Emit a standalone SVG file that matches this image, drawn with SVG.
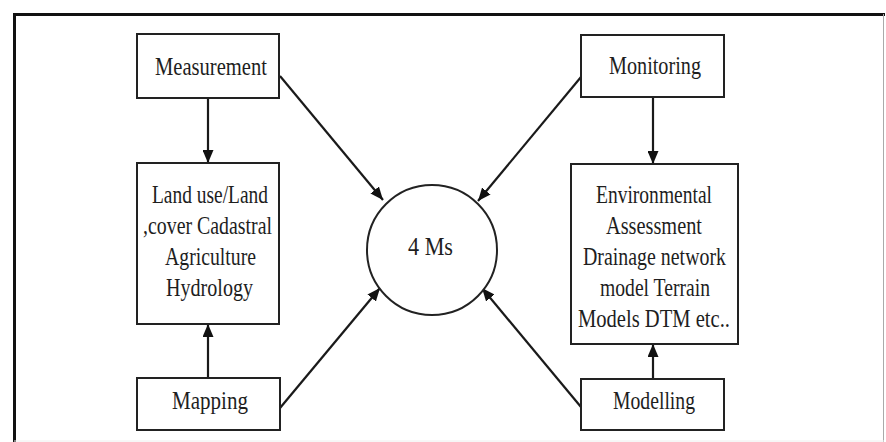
<svg xmlns="http://www.w3.org/2000/svg" width="886" height="442" viewBox="0 0 886 442">
<style>
.box{fill:#fff;stroke:#222;stroke-width:2}
.t{font-family:"Liberation Serif","Times New Roman",serif;font-size:25px;fill:#1e1e1e;text-anchor:middle}
.c{stroke:#1a1a1a;stroke-width:2.2;fill:none}
</style>
<defs>
<marker id="ah" markerUnits="userSpaceOnUse" markerWidth="13" markerHeight="11" refX="13" refY="5.5" orient="auto">
<path d="M0,0 L13,5.5 L0,11 z" fill="#111"/>
</marker>
</defs>
<rect width="886" height="442" fill="#fff"/>
<g id="frame">
<line x1="13" y1="14.5" x2="885" y2="14.5" stroke="#111" stroke-width="3"/>
<line x1="14.5" y1="13" x2="14.5" y2="442" stroke="#111" stroke-width="3"/>
<line x1="883.5" y1="14" x2="883.5" y2="442" stroke="#aaa" stroke-width="1"/>
<line x1="14" y1="441" x2="884" y2="441" stroke="#eee" stroke-width="1"/>
</g>
<g id="connectors">
<line class="c" x1="208" y1="98" x2="208" y2="163" marker-end="url(#ah)"/>
<line class="c" x1="653" y1="97" x2="653" y2="164" marker-end="url(#ah)"/>
<line class="c" x1="208" y1="378" x2="208" y2="324" marker-end="url(#ah)"/>
<line class="c" x1="653" y1="379" x2="653" y2="344" marker-end="url(#ah)"/>
<line class="c" x1="280" y1="76" x2="383" y2="200" marker-end="url(#ah)"/>
<line class="c" x1="581" y1="77" x2="478" y2="201" marker-end="url(#ah)"/>
<line class="c" x1="280" y1="408" x2="380" y2="288" marker-end="url(#ah)"/>
<line class="c" x1="581" y1="407" x2="482" y2="288" marker-end="url(#ah)"/>
</g>
<g id="measurement">
<rect class="box" x="137" y="34" width="142" height="64"/>
<text class="t" x="211" y="75" textLength="112" lengthAdjust="spacingAndGlyphs">Measurement</text>
</g>
<g id="landuse">
<rect class="box" x="137" y="163" width="142" height="161"/>
<text class="t" x="210" y="203" textLength="116" lengthAdjust="spacingAndGlyphs">Land use/Land</text>
<text class="t" x="207.5" y="234" textLength="129" lengthAdjust="spacingAndGlyphs">,cover Cadastral</text>
<text class="t" x="210.5" y="265" textLength="91" lengthAdjust="spacingAndGlyphs">Agriculture</text>
<text class="t" x="209.5" y="296" textLength="87" lengthAdjust="spacingAndGlyphs">Hydrology</text>
</g>
<g id="mapping">
<rect class="box" x="137" y="378" width="143" height="52"/>
<text class="t" x="210" y="409" textLength="76" lengthAdjust="spacingAndGlyphs">Mapping</text>
</g>
<g id="monitoring">
<rect class="box" x="581" y="35" width="143" height="62"/>
<text class="t" x="655" y="74" textLength="92" lengthAdjust="spacingAndGlyphs">Monitoring</text>
</g>
<g id="environmental">
<rect class="box" x="571" y="164" width="167" height="180"/>
<text class="t" x="654" y="203" textLength="116" lengthAdjust="spacingAndGlyphs">Environmental</text>
<text class="t" x="654" y="234" textLength="96" lengthAdjust="spacingAndGlyphs">Assessment</text>
<text class="t" x="654.5" y="265" textLength="143" lengthAdjust="spacingAndGlyphs">Drainage network</text>
<text class="t" x="655" y="296" textLength="110" lengthAdjust="spacingAndGlyphs">model Terrain</text>
<text class="t" x="654" y="327" textLength="152" lengthAdjust="spacingAndGlyphs">Models DTM etc..</text>
</g>
<g id="modelling">
<rect class="box" x="581" y="379" width="143" height="51"/>
<text class="t" x="654" y="409" textLength="82" lengthAdjust="spacingAndGlyphs">Modelling</text>
</g>
<g id="fourms">
<circle class="box" cx="432" cy="250" r="65"/>
<text class="t" x="430.5" y="255" textLength="45" lengthAdjust="spacingAndGlyphs">4 Ms</text>
</g>
</svg>
